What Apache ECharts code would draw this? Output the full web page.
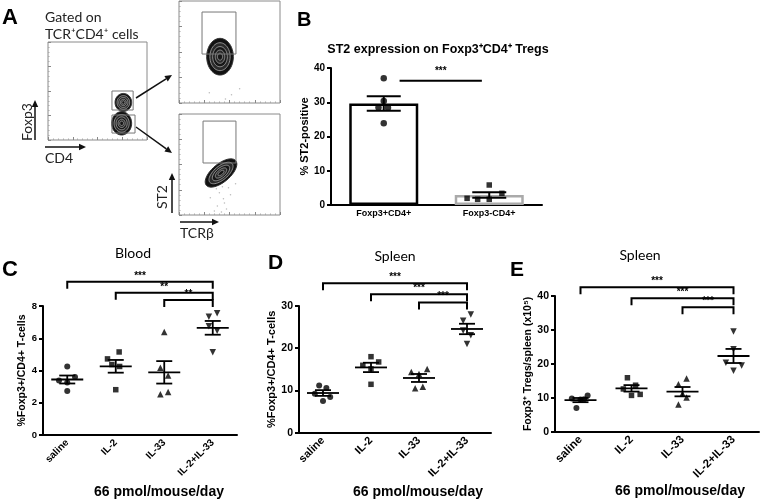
<!DOCTYPE html>
<html><head><meta charset="utf-8">
<script src="https://cdn.jsdelivr.net/npm/echarts@6/dist/echarts.min.js"></script>
<style>html,body{margin:0;padding:0;background:#fff}#c{width:762px;height:501px}</style>
</head><body><div id="c"></div>
<script>
// ================= DATA =================
const groups = ['saline', 'IL-2', 'IL-33', 'IL-2+IL-33'];

// C: Blood, %Foxp3+/CD4+ T-cells
const bloodSaline = [4.25, 3.38, 3.26, 3.59, 2.73];
const bloodIL2    = [5.15, 4.72, 4.37, 4.25, 2.81];
const bloodIL33   = [6.38, 4.17, 3.69, 2.52, 2.67];
const bloodCombo  = [7.34, 7.55, 6.75, 6.46, 5.13];
const bloodSig    = ['***', '**', '**'];

// D: Spleen, %Foxp3+/CD4+ T-cells
const spleenPctSaline = [11.2, 10.6, 9.24, 8.45, 7.5];
const spleenPctIL2    = [18.0, 16.75, 15.96, 15.1, 11.46];
const spleenPctIL33   = [14.38, 15.1, 13.9, 10.5, 10.9];
const spleenPctCombo  = [28.0, 26.5, 24.2, 23.1, 21.0];
const spleenPctSig    = ['***', '***', '***'];

// E: Spleen, Foxp3+ Tregs/spleen (x10^5)
const spleenNumSaline = [9.8, 9.5, 9.6, 10.7, 7.0];
const spleenNumIL2    = [15.9, 13.7, 12.6, 10.7, 11.0];
const spleenNumIL33   = [15.7, 14.0, 11.2, 10.1, 8.0];
const spleenNumCombo  = [29.5, 24.3, 20.3, 19.5, 18.0];
const spleenNumSig    = ['***', '***', '***'];

// B: % ST2-positive
const st2Cats  = ['Foxp3+CD4+', 'Foxp3-CD4+'];
const st2Treg  = [37.0, 30.4, 28.5, 28.4, 23.9];
const st2Tconv = [1.95, 1.66, 5.84, 1.66, 3.41];
const st2Sig   = ['***'];

// A: flow cytometry (gates [x1,y1,x2,y2], contours [cx,cy,rx,ry,angle], 0-100 display scale)
const cd4FoxGates    = [[64.6, 30.6, 86, 50], [64.6, 7.1, 87.9, 25.5]];
const cd4FoxContours = [[76.1, 38.3, 8.4, 9.2, 0], [74.4, 17.0, 10.1, 11.9, 0]];
const tregGates      = [[22.8, 48, 56.4, 89.2]];
const tregContours   = [[40.6, 45.4, 13.2, 18, 0]];
const tconvGates     = [[23.8, 51.5, 56.4, 93]];
const tconvContours  = [[41.6, 41.6, 19, 9, 40]];
const tconvEvents    = [[40,22],[44,16],[38,9],[47,6],[43,28],[51,20],[35,4],[56,31],[31,17],[45,12],[49,27],[42,3],[37,26]];
const tregEvents     = [[52,8],[60,14],[30,10],[46,4]];

// ================= LAYOUT (jitter of dots within a column, category units) =================
const jitterC = [[0,-0.17,0,0.16,0],[0.07,-0.17,-0.08,0.08,0],[0,-0.08,0.08,-0.08,0.08],[-0.08,0.09,-0.08,0.09,0]];
const jitterD = [[-0.08,0.07,-0.17,0.15,0],[0,0.16,-0.17,0,0],[-0.16,0.17,0,-0.08,0.08],[0.08,-0.08,-0.08,0.08,0]];
const jitterE = [[-0.17,0,0.07,0.14,-0.08],[-0.08,0.08,-0.16,0,0.17],[0.08,-0.08,0,0.08,-0.08],[0,0,-0.15,0.16,0]];
const jitterB = [[0,0,-0.05,0.04,0],[-0.21,-0.11,0,0,0.12]];

const FONT = '"Liberation Sans", Arial, Helvetica, sans-serif';
const SANS = 'Lato, "Open Sans", "Liberation Sans", sans-serif';
const mean = a => a.reduce((s, v) => s + v, 0) / a.length;
const sem = a => { const m = mean(a); return Math.sqrt(a.reduce((s, v) => s + (v - m) * (v - m), 0) / (a.length - 1) / a.length); };

const grids = [], xAxes = [], yAxes = [], series = [];
function addGrid(g) { grids.push(Object.assign({ containLabel: false, outerBoundsMode: 'none' }, g)); return grids.length - 1; }

function meanSem(halfMean, halfCap, lw) {
  return function (params, api) {
    const x = api.value(0), m = api.value(1), s = api.value(2);
    const pm = api.coord([x, m]), pt = api.coord([x, m + s]), pb = api.coord([x, m - s]);
    const st = { stroke: '#000', lineWidth: lw };
    const ch = [
      { type: 'line', shape: { x1: pt[0], y1: pt[1], x2: pb[0], y2: pb[1] }, style: st },
      { type: 'line', shape: { x1: pt[0] - halfCap, y1: pt[1], x2: pt[0] + halfCap, y2: pt[1] }, style: st },
      { type: 'line', shape: { x1: pb[0] - halfCap, y1: pb[1], x2: pb[0] + halfCap, y2: pb[1] }, style: st }
    ];
    if (halfMean > 0) ch.push({ type: 'line', shape: { x1: pm[0] - halfMean, y1: pm[1], x2: pm[0] + halfMean, y2: pm[1] }, style: st });
    return { type: 'group', children: ch };
  };
}
function bracket(labels, drop, gap) {
  return function (params, api) {
    const a = api.coord([api.value(0), api.value(2)]), b = api.coord([api.value(1), api.value(2)]);
    return { type: 'group', children: [
      { type: 'polyline', shape: { points: [[a[0], a[1] + drop], [a[0], a[1]], [b[0], b[1]], [b[0], b[1] + drop]] }, style: { stroke: '#000', lineWidth: 2, fill: 'none' } },
      { type: 'text', x: (a[0] + b[0]) / 2, y: a[1] - gap, style: { text: labels[params.dataIndex], font: 'bold 10px ' + FONT, fill: '#000', textAlign: 'center', textVerticalAlign: 'bottom' } }
    ] };
  };
}

const SYM = ['circle', 'rect', 'triangle', 'triangle'];
const ROT = [0, 0, 0, 180];
const SZ = [6, 5.5, 6.5, 6.5];

function dotPanel(p) {
  const gi = addGrid({ left: p.left, top: p.top, width: p.width, height: p.height });
  xAxes.push({ type: 'category', gridIndex: gi, data: groups,
    axisLine: { onZero: false, lineStyle: { color: '#000', width: 2 } },
    axisTick: { alignWithLabel: true, length: 5, lineStyle: { width: 2, color: '#000' } },
    axisLabel: { rotate: 45, interval: 0, margin: 6, fontFamily: FONT, fontWeight: 'bold', fontSize: p.catSize, color: '#000' } });
  const xv = xAxes.length;
  xAxes.push({ type: 'value', gridIndex: gi, min: -0.5, max: 3.5, show: false });
  const yi = yAxes.length;
  yAxes.push({ type: 'value', gridIndex: gi, min: 0, max: p.max, interval: p.interval,
    name: p.yName, nameLocation: 'middle', nameRotate: 90, nameGap: p.nameGap,
    nameTextStyle: { fontFamily: FONT, fontWeight: 'bold', fontSize: p.nameSize, color: '#000' },
    axisLine: { show: true, onZero: false, lineStyle: { color: '#000', width: 2 } },
    axisTick: { show: true, length: 4, lineStyle: { width: 2, color: '#000' } },
    axisLabel: { margin: 6, fontFamily: FONT, fontWeight: 'bold', fontSize: p.tickSize, color: '#000' },
    splitLine: { show: false } });
  p.values.forEach((vals, g) => {
    series.push({ type: 'scatter', xAxisIndex: xv, yAxisIndex: yi, symbol: SYM[g], symbolRotate: ROT[g], symbolSize: SZ[g],
      itemStyle: { color: '#000' }, silent: true, z: 3,
      data: vals.map((v, i) => [g + p.jitter[g][i], v]) });
  });
  series.push({ type: 'custom', xAxisIndex: xv, yAxisIndex: yi, renderItem: meanSem(16, 8, 1.8), z: 4,
    data: p.values.map((vals, g) => [g, mean(vals), sem(vals)]) });
  series.push({ type: 'custom', xAxisIndex: xv, yAxisIndex: yi, renderItem: bracket(p.sig, 7, 1), z: 4, clip: false,
    data: p.brackets });
}

// ---------- Panel B ----------
(function () {
  const gi = addGrid({ left: 331, top: 68, width: 211, height: 137 });
  const xc = xAxes.length;
  xAxes.push({ type: 'category', gridIndex: gi, data: st2Cats,
    axisLine: { onZero: false, lineStyle: { color: '#000', width: 2 } },
    axisTick: { alignWithLabel: true, length: 4, lineStyle: { width: 2, color: '#000' } },
    axisLabel: { margin: 4, fontFamily: FONT, fontWeight: 'bold', fontSize: 9, color: '#000' } });
  const xv = xAxes.length;
  xAxes.push({ type: 'value', gridIndex: gi, min: -0.5, max: 1.5, show: false });
  const yi = yAxes.length;
  yAxes.push({ type: 'value', gridIndex: gi, min: 0, max: 40, interval: 10,
    name: '% ST2-positive', nameLocation: 'middle', nameRotate: 90, nameGap: 14,
    nameTextStyle: { fontFamily: FONT, fontWeight: 'bold', fontSize: 11, color: '#000' },
    axisLine: { show: true, onZero: false, lineStyle: { color: '#000', width: 2 } },
    axisTick: { show: true, length: 4, lineStyle: { width: 2, color: '#000' } },
    axisLabel: { margin: 6, fontFamily: FONT, fontWeight: 'bold', fontSize: 10, color: '#000' },
    splitLine: { show: false } });
  series.push({ type: 'bar', xAxisIndex: xc, yAxisIndex: yi, barWidth: 69, silent: true,
    itemStyle: { color: '#fff', borderWidth: 2.5 },
    data: [{ value: mean(st2Treg), itemStyle: { borderColor: '#000' } },
           { value: mean(st2Tconv), itemStyle: { borderColor: '#aaaaaa' } }] });
  [st2Treg, st2Tconv].forEach((vals, g) => {
    series.push({ type: 'scatter', xAxisIndex: xv, yAxisIndex: yi, symbol: g ? 'rect' : 'circle', symbolSize: g ? 5.5 : 6.5,
      itemStyle: { color: '#000' }, silent: true, z: 3,
      data: vals.map((v, i) => [g + jitterB[g][i], v]) });
  });
  series.push({ type: 'custom', xAxisIndex: xv, yAxisIndex: yi, renderItem: meanSem(0, 17, 2), z: 4,
    data: [[0, mean(st2Treg), sem(st2Treg)], [1, mean(st2Tconv), sem(st2Tconv)]] });
  series.push({ type: 'custom', xAxisIndex: xv, yAxisIndex: yi, renderItem: bracket(st2Sig, 0, 4), z: 4, clip: false,
    data: [[0.15, 0.93, 36.3]] });
})();

dotPanel({ left: 43, top: 306, width: 194, height: 129, max: 8, interval: 2,
  yName: '%Foxp3+/CD4+ T-cells', nameGap: 15, nameSize: 10.5, tickSize: 9.5, catSize: 10,
  values: [bloodSaline, bloodIL2, bloodIL33, bloodCombo], jitter: jitterC, sig: bloodSig,
  brackets: [[0, 3, 9.5], [1, 3, 8.82], [2, 3, 8.37]] });
dotPanel({ left: 299, top: 306, width: 192, height: 126.7, max: 30, interval: 10,
  yName: '%Foxp3+/CD4+ T-cells', nameGap: 19, nameSize: 11, tickSize: 10.5, catSize: 11,
  values: [spleenPctSaline, spleenPctIL2, spleenPctIL33, spleenPctCombo], jitter: jitterD, sig: spleenPctSig,
  brackets: [[0, 3, 35.4], [1, 3, 32.8], [2, 3, 30.8]] });
dotPanel({ left: 555, top: 296, width: 204, height: 135.7, max: 40, interval: 10,
  yName: 'Foxp3\u207A Tregs/spleen (x10\u2075)', nameGap: 17, nameSize: 10.5, tickSize: 10.5, catSize: 11.5,
  values: [spleenNumSaline, spleenNumIL2, spleenNumIL33, spleenNumCombo], jitter: jitterE, sig: spleenNumSig,
  brackets: [[0, 3, 42.6], [1, 3, 39.35], [2, 3, 36.7]] });

// ---------- Panel A (flow plots) ----------
function contour(params, api) {
  const cx = api.value(0), cy = api.value(1), rx = api.value(2), ry = api.value(3), ang = api.value(4) * Math.PI / 180;
  const scales = [1, 0.76, 0.55, 0.36, 0.19];
  const children = scales.map((s, k) => {
    const pts = [];
    for (let i = 0; i < 48; i++) {
      const t = i / 48 * Math.PI * 2;
      const dx = rx * s * Math.cos(t), dy = ry * s * Math.sin(t);
      pts.push(api.coord([cx + dx * Math.cos(ang) - dy * Math.sin(ang), cy + dx * Math.sin(ang) + dy * Math.cos(ang)]));
    }
    return { type: 'polygon', shape: { points: pts },
      style: k === 0 ? { fill: '#121212', stroke: '#333', lineWidth: 1 } : { fill: k % 2 ? '#2b2b2b' : '#171717', stroke: '#a8a8a8', lineWidth: 0.8 } };
  });
  return { type: 'group', children };
}
function gate(params, api) {
  const a = api.coord([api.value(0), api.value(3)]), b = api.coord([api.value(2), api.value(1)]);
  return { type: 'rect', shape: { x: a[0], y: a[1], width: b[0] - a[0], height: b[1] - a[1] }, style: { fill: 'none', stroke: '#777', lineWidth: 1 } };
}
function flowPlot(box, gates, contours, events) {
  const gi = addGrid(Object.assign({ show: true, borderColor: '#8a8a8a', borderWidth: 1 }, box));
  const ax = {
    type: 'value', gridIndex: gi, min: 0, max: 100, interval: 25,
    axisLine: { show: false, onZero: false }, axisLabel: { show: false }, splitLine: { show: false },
    axisTick: { show: true, inside: true, length: 3, lineStyle: { color: '#888' } },
    minorTick: { show: true, splitNumber: 5, length: 1.5, lineStyle: { color: '#aaa' } }
  };
  const xi = xAxes.length; xAxes.push(Object.assign({}, ax));
  const yi = yAxes.length; yAxes.push(Object.assign({}, ax));
  if (events) series.push({ type: 'scatter', xAxisIndex: xi, yAxisIndex: yi, symbolSize: 1.5, itemStyle: { color: '#aaa' }, silent: true, data: events });
  series.push({ type: 'custom', xAxisIndex: xi, yAxisIndex: yi, renderItem: contour, data: contours, z: 3 });
  series.push({ type: 'custom', xAxisIndex: xi, yAxisIndex: yi, renderItem: gate, data: gates, z: 4 });
}
flowPlot({ left: 48, top: 42, width: 99, height: 98 }, cd4FoxGates, cd4FoxContours, null);
flowPlot({ left: 179, top: 1, width: 101, height: 102 }, tregGates, tregContours, tregEvents);
flowPlot({ left: 179, top: 114, width: 101, height: 101 }, tconvGates, tconvContours, tconvEvents);

// ---------- free text & arrows ----------
function txt(text, x, y, font, align, rot, fill) {
  return { type: 'text', x, y, rotation: rot || 0,
    style: { text, font, fill: fill || '#000', textAlign: align || 'center', textVerticalAlign: 'middle' } };
}
function arrow(x1, y1, x2, y2) {
  const a = Math.atan2(y2 - y1, x2 - x1), L = 7, W = 3.2;
  const bx = x2 - L * Math.cos(a), by = y2 - L * Math.sin(a);
  return [
    { type: 'line', shape: { x1, y1, x2: bx, y2: by }, style: { stroke: '#111', lineWidth: 1.5 } },
    { type: 'polygon', shape: { points: [[x2, y2], [bx - W * Math.sin(a), by + W * Math.cos(a)], [bx + W * Math.sin(a), by - W * Math.cos(a)]] }, style: { fill: '#111' } }
  ];
}
const B = 'bold ';
const graphics = [
  txt('A', 2, 18, B + '22px ' + FONT, 'left'),
  txt('Gated on', 45, 17, '14px ' + SANS, 'left', 0, '#222'),
  txt('TCR\u207ACD4\u207A cells', 45, 34, '14px ' + SANS, 'left', 0, '#222'),
  txt('Foxp3', 27, 122, '14px ' + SANS, 'center', Math.PI / 2, '#222'),
  txt('CD4', 45, 158, '14px ' + SANS, 'left', 0, '#222'),
  txt('ST2', 162, 197, '14px ' + SANS, 'center', Math.PI / 2, '#222'),
  txt('TCR\u03B2', 180, 233, '14px ' + SANS, 'left', 0, '#222'),
  txt('B', 297, 20, B + '20px ' + FONT, 'left'),
  txt('ST2 expression on Foxp3\u207ACD4\u207A Tregs', 438, 50, B + '12.5px ' + FONT),
  txt('C', 2, 270, B + '22px ' + FONT, 'left'),
  txt('Blood', 133, 253, '14px ' + SANS),
  txt('D', 268, 263, B + '21px ' + FONT, 'left'),
  txt('Spleen', 395, 256, '14px ' + SANS),
  txt('E', 510, 270, B + '21px ' + FONT, 'left'),
  txt('Spleen', 640, 255, '14px ' + SANS),
  txt('66 pmol/mouse/day', 159, 492, B + '14px ' + FONT),
  txt('66 pmol/mouse/day', 418, 492, B + '14px ' + FONT),
  txt('66 pmol/mouse/day', 680, 491, B + '14px ' + FONT)
].concat(
  arrow(35, 140, 35, 100), arrow(45, 147, 86, 147),
  arrow(172, 213, 172, 173), arrow(180, 222, 219, 222),
  arrow(136, 98, 172, 75), arrow(136, 127, 172, 153)
);

const chart = echarts.init(document.getElementById('c'));
chart.setOption({
  animation: false,
  backgroundColor: '#fff',
  grid: grids, xAxis: xAxes, yAxis: yAxes, series: series,
  graphic: graphics
});
</script></body></html>
